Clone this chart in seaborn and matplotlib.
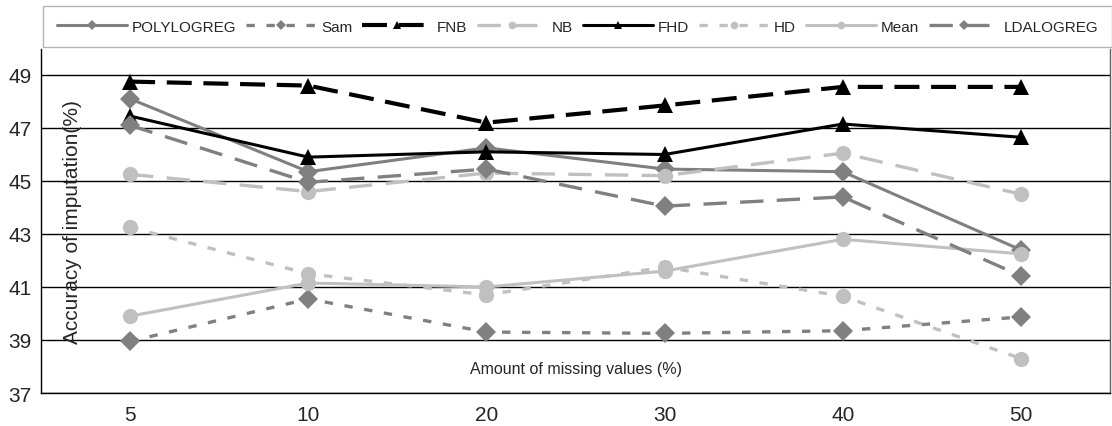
import numpy as np
import pandas as pd
import matplotlib
matplotlib.use("Agg")
import matplotlib.pyplot as plt
import seaborn as sns

categories = ["5", "10", "20", "30", "40", "50"]
polylogreg = [48.1, 45.35, 46.25, 45.45, 45.35, 42.4]
sam = [38.95, 40.55, 39.3, 39.25, 39.35, 39.87]
fnb = [48.75, 48.6, 47.2, 47.85, 48.55, 48.55]
nb = [45.25, 44.6, 45.3, 45.2, 46.05, 44.5]
fhd = [47.45, 45.9, 46.1, 46.0, 47.15, 46.65]
hd = [43.25, 41.5, 40.7, 41.75, 40.65, 38.3]
mean = [39.9, 41.15, 41.0, 41.6, 42.8, 42.25]
ldalogreg = [47.1, 44.95, 45.45, 44.05, 44.4, 41.42]

series_names = ["POLYLOGREG", "Sam", "FNB", "NB", "FHD", "HD", "Mean", "LDALOGREG"]
series_values = [polylogreg, sam, fnb, nb, fhd, hd, mean, ldalogreg]

styles = {
    "POLYLOGREG": dict(color="#808080", lw=2.2, ls="-", marker="D", ms=10),
    "Sam": dict(color="#808080", lw=2.4, ls=(0, (2.5, 3.5)), marker="D", ms=10),
    "FNB": dict(color="black", lw=3.0, ls=(0, (6, 2.8)), marker="^", ms=11),
    "NB": dict(color="#c0c0c0", lw=2.4, ls=(0, (7, 4)), marker="o", ms=11),
    "FHD": dict(color="black", lw=2.2, ls="-", marker="^", ms=11),
    "HD": dict(color="#c0c0c0", lw=2.4, ls=(0, (2.5, 3.5)), marker="o", ms=11),
    "Mean": dict(color="#c0c0c0", lw=2.2, ls="-", marker="o", ms=11),
    "LDALOGREG": dict(color="#808080", lw=2.4, ls=(0, (7, 4)), marker="D", ms=10),
}

sns.set_style("white")
plt.rcParams["font.family"] = ["Liberation Sans", "DejaVu Sans"]

fig = plt.figure(figsize=(11.12, 4.27), dpi=100)
ax = fig.add_axes([41 / 1112, 1 - 394 / 427, 1069 / 1112, 344 / 427])

xpos = np.arange(len(categories))
handles = []
for name, vals in zip(series_names, series_values):
    st = styles[name]
    df = pd.DataFrame({"x": xpos, "y": vals})
    sns.lineplot(data=df, x="x", y="y", ax=ax, color=st["color"], linewidth=st["lw"],
                 linestyle=st["ls"], marker=st["marker"], markersize=st["ms"],
                 markeredgewidth=0, label=name, legend=False)
    handles.append(ax.lines[-1])

ax.set_xlim(-0.5, 5.5)
ax.set_ylim(37, 49.98)
ax.set_yticks([37, 39, 41, 43, 45, 47, 49])
ax.set_yticklabels(["37", "39", "41", "43", "45", "47", "49"], fontsize=15)
ax.set_xticks(xpos)
ax.set_xticklabels(categories, fontsize=15)
ax.set_xticks(np.arange(-0.5, 6.0, 1.0), minor=True)
ax.tick_params(axis="x", which="major", length=0, pad=9)
ax.tick_params(axis="x", which="minor", length=5, width=1, color="black", direction="out")
ax.tick_params(axis="y", length=5, width=1, color="black", direction="out", pad=2)
ax.yaxis.grid(True, color="black", linewidth=1)
ax.set_axisbelow(True)
for side in ["left", "bottom", "right"]:
    ax.spines[side].set_color("black")
    ax.spines[side].set_linewidth(1)
ax.spines["right"].set_color("#606060")
ax.spines["top"].set_visible(False)
ax.set_xlabel("")
ax.set_ylabel("")

ax.text(0.5, 0.07, "Amount of missing values (%)", transform=ax.transAxes,
        ha="center", va="center", fontsize=11.5)
ax.text(32 / 1069, 0.5, "Accuracy of imputation(%)", transform=ax.transAxes,
        ha="center", va="center", rotation=90, fontsize=15)

leg = fig.legend(handles=handles, labels=series_names, loc="center left",
                 bbox_to_anchor=(43 / 1112, 1 - 48 / 427, 1069 / 1112, 41 / 427),
                 ncol=8, mode="expand", frameon=True, fontsize=11, handlelength=4.6,
                 markerscale=0.5, borderaxespad=0, columnspacing=0.4, handletextpad=0.3,
                 borderpad=0.9, fancybox=False)
leg.get_frame().set_edgecolor("#a0a0a0")
leg.get_frame().set_linewidth(1)
leg._legend_box.align = "left"

fig.savefig("out.png", dpi=100)
